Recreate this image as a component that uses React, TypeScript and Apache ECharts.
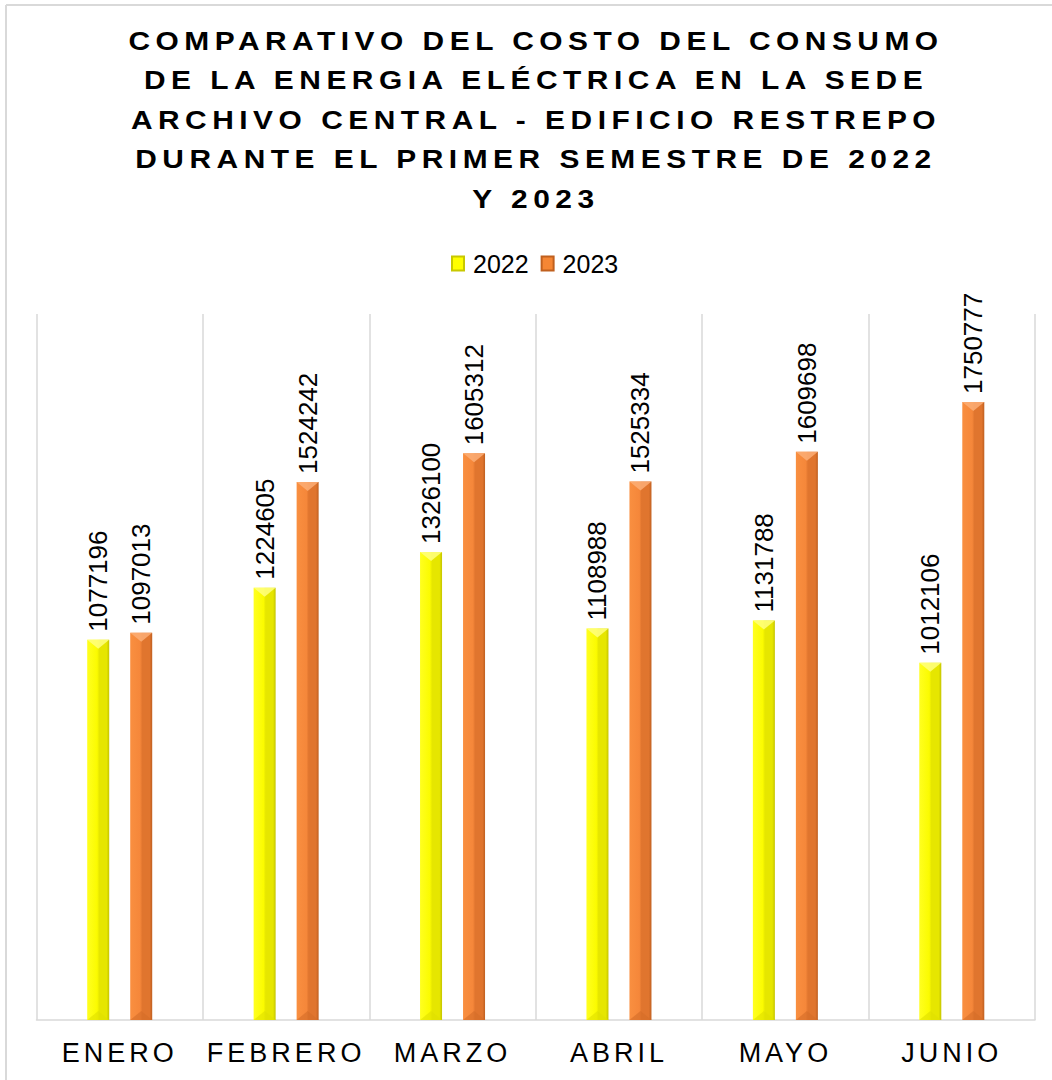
import React, { useEffect, useRef } from "react";
import * as echarts from "echarts";

const categories = ["ENERO", "FEBRERO", "MARZO", "ABRIL", "MAYO", "JUNIO"];
const values2022 = [1077196, 1224605, 1326100, 1108988, 1131788, 1012106];
const values2023 = [1097013, 1524242, 1605312, 1525334, 1609698, 1750777];
const seriesNames = ["2022", "2023"];
const titleLines = [
  "COMPARATIVO DEL COSTO DEL CONSUMO",
  "DE LA ENERGIA ELÉCTRICA EN LA SEDE",
  "ARCHIVO CENTRAL - EDIFICIO RESTREPO",
  "DURANTE EL PRIMER SEMESTRE DE 2022",
  "Y 2023",
];

const FONT = "'Liberation Sans', Arial, Helvetica, sans-serif";

const palettes = [
  { base: "#ffff00", left: "#ffff20", mid: "#fbfb00", right: "#e6e600", edge: "#c4c400", top: "#ffff80", bottom: "#e0e000" },
  { base: "#f58634", left: "#f98f40", mid: "#f5873a", right: "#e0752e", edge: "#bf5f20", top: "#fbae76", bottom: "#d46c28" },
];

function makeRender(idx: number) {
  const pal = palettes[idx];
  const offset = idx === 0 ? -21.5 : 21.5;
  const w = 22;
  return (params: any, api: any) => {
    const cat = api.value(0);
    const v = api.value(1);
    const top = api.coord([cat, v]);
    const base = api.coord([cat, 0]);
    const cx = top[0] + offset;
    const x0 = cx - w / 2;
    const x1 = cx + w / 2;
    const h = base[1] - top[1];
    const bev = 9;
    const grad = new echarts.graphic.LinearGradient(0, 0, 1, 0, [
      { offset: 0, color: pal.left },
      { offset: 0.45, color: pal.mid },
      { offset: 0.55, color: pal.right },
      { offset: 0.88, color: pal.right },
      { offset: 1, color: pal.edge },
    ]);
    return {
      type: "group",
      children: [
        { type: "rect", shape: { x: x0, y: top[1], width: w, height: h }, style: { fill: grad } },
        {
          type: "polygon",
          shape: { points: [[x0, top[1]], [x1, top[1]], [cx, top[1] + bev]] },
          style: { fill: pal.top, opacity: 0.85 },
        },
        {
          type: "polygon",
          shape: { points: [[x0, base[1]], [x1, base[1]], [cx, base[1] - bev]] },
          style: { fill: pal.bottom, opacity: 0.6 },
        },
        {
          type: "text",
          x: cx,
          y: top[1] - 8,
          rotation: Math.PI / 2,
          style: {
            text: String(v),
            fill: "#000",
            font: `26px ${FONT}`,
            align: "left",
            verticalAlign: "middle",
          },
        },
      ],
    };
  };
}

export default function App() {
  const ref = useRef<HTMLDivElement>(null);
  useEffect(() => {
    if (!ref.current) return;
    const chart = echarts.init(ref.current, undefined, { renderer: "svg" });
    const option: any = {
      animation: false,
      backgroundColor: "#ffffff",
      graphic: [
        { type: "line", shape: { x1: 6, y1: 5, x2: 6, y2: 1080 }, style: { stroke: "#d9d9d9", lineWidth: 2 } },
        { type: "line", shape: { x1: 6, y1: 5, x2: 1052, y2: 5 }, style: { stroke: "#d9d9d9", lineWidth: 2 } },
        {
          type: "text",
          x: 536,
          y: 21,
          scaleX: 1.15,
          style: {
            text: titleLines.join("\n"),
            font: `bold 26px ${FONT}`,
            fill: "#000",
            align: "center",
            verticalAlign: "top",
            lineHeight: 39.5,
          },
        },
      ],
      legend: {
        left: 446,
        top: 246,
        icon: "rect",
        itemWidth: 12,
        itemHeight: 14,
        itemGap: 12,
        data: seriesNames,
        textStyle: { fontSize: 25, fontFamily: FONT, color: "#000", padding: [0, 0, 0, 4] },
        selectedMode: false,
      },
      grid: { left: 36.5, right: 17, top: 314, bottom: 60 },
      xAxis: {
        type: "category",
        data: categories,
        axisTick: { show: false, interval: 0 },
        axisLine: { lineStyle: { color: "#d9d9d9", width: 1.5 } },
        splitLine: { show: true, interval: 0, lineStyle: { color: "#d9d9d9", width: 1.5 } },
        axisLabel: { interval: 0, fontSize: 27, fontFamily: FONT, color: "#000", margin: 19 },
      },
      yAxis: { type: "value", min: 0, max: 2000000, show: false, splitLine: { show: false } },
      series: [
        {
          name: seriesNames[0],
          type: "custom",
          silent: true,
          itemStyle: { color: palettes[0].base, borderColor: "#c8c800", borderWidth: 1 },
          encode: { x: 0, y: 1 },
          data: values2022.map((v, i) => [i, v]),
          renderItem: makeRender(0),
        },
        {
          name: seriesNames[1],
          type: "custom",
          silent: true,
          itemStyle: { color: palettes[1].base, borderColor: "#c0601e", borderWidth: 1 },
          encode: { x: 0, y: 1 },
          data: values2023.map((v, i) => [i, v]),
          renderItem: makeRender(1),
        },
      ],
    };
    chart.setOption(option);
    const applySpacing = () => {
      const root = ref.current;
      if (!root) return;
      root.querySelectorAll("text").forEach((t) => {
        const s = (t.textContent || "").trim();
        if (titleLines.includes(s)) t.setAttribute("letter-spacing", "4.8");
        else if (categories.includes(s)) t.setAttribute("letter-spacing", "4");
      });
    };
    applySpacing();
    return () => chart.dispose();
  }, []);
  return <div ref={ref} style={{ position: "absolute", left: 0, top: 0, width: 1052, height: 1080 }} />;
}
